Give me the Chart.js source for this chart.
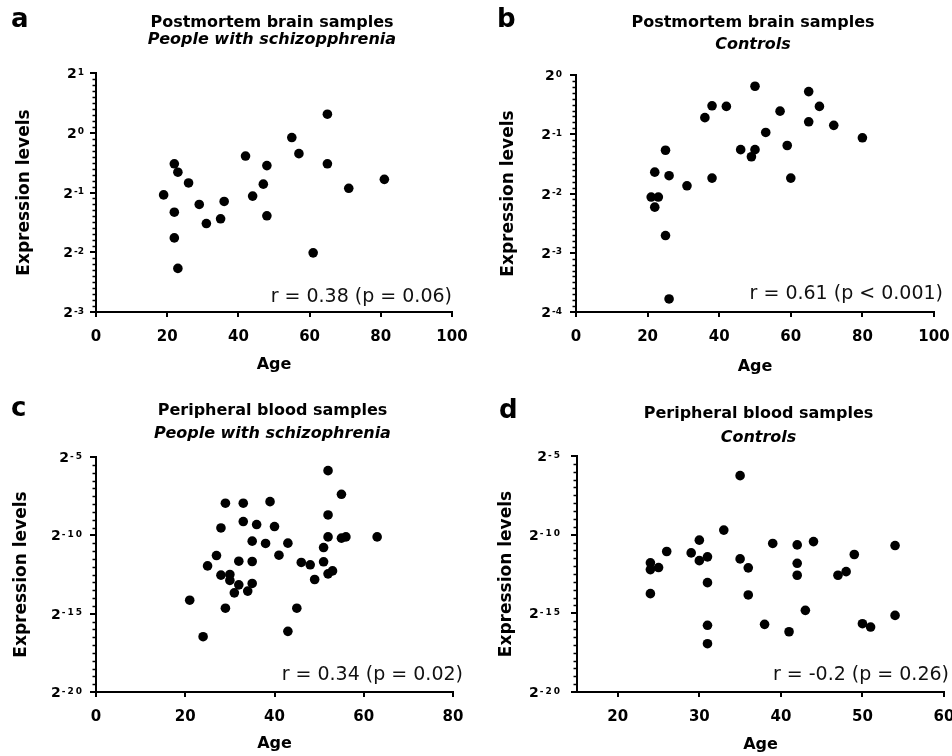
<!DOCTYPE html>
<html>
<head>
<meta charset="utf-8">
<script src="https://cdn.jsdelivr.net/npm/chart.js@4/dist/chart.umd.min.js"></script>
<style>
  body { margin: 0; background: #fff; }
  .panel { position: absolute; width: 476px; height: 378px; }
</style>
</head>
<body>
<div class="panel" style="left:0;top:0"><canvas id="pa" width="476" height="378"></canvas></div>
<div class="panel" style="left:476px;top:0"><canvas id="pb" width="476" height="378"></canvas></div>
<div class="panel" style="left:0;top:378px"><canvas id="pc" width="476" height="378"></canvas></div>
<div class="panel" style="left:476px;top:378px"><canvas id="pd" width="476" height="378"></canvas></div>
<script>
// ages and log2 expression levels
var agesA = [19, 22, 23, 22, 22, 23, 26, 29, 31, 35, 36, 42, 44, 47, 48, 48, 55, 57, 65, 65, 61, 71, 81];
var exprA = [-1.04, -0.52, -0.66, -1.33, -1.76, -2.27, -0.84, -1.20, -1.52, -1.44, -1.15, -0.39,
             -1.06, -0.86, -0.55, -1.39, -0.08, -0.35, 0.31, -0.52, -2.01, -0.93, -0.78];

var agesB = [50, 65, 38, 42, 68, 36, 57, 65, 72, 53, 80, 25, 46, 50, 49, 59, 22, 26, 38, 60, 31, 21, 23, 22, 25, 26];
var exprB = [-0.19, -0.28, -0.52, -0.53, -0.53, -0.72, -0.61, -0.79, -0.85, -0.97, -1.06, -1.27, -1.26,
             -1.26, -1.38, -1.19, -1.64, -1.70, -1.74, -1.74, -1.87, -2.06, -2.06, -2.23, -2.71, -3.78];

var agesC = [52, 55, 29, 33, 39, 52, 33, 36, 28, 40, 52, 55, 56, 63, 35, 38, 43, 51, 27, 41, 25,
             32, 35, 46, 48, 51, 28, 30, 30, 52, 53, 49, 32, 35, 31, 34, 21, 29, 45, 43, 24];
var exprC = [-5.87, -7.38, -7.95, -7.95, -7.85, -8.70, -9.12, -9.31, -9.53, -9.44, -10.10, -10.18,
             -10.10, -10.10, -10.37, -10.52, -10.50, -10.78, -11.29, -11.27, -11.95, -11.65, -11.67,
             -11.73, -11.88, -11.69, -12.54, -12.50, -12.88, -12.46, -12.27, -12.82, -13.16, -13.07,
             -13.67, -13.56, -14.14, -14.65, -14.65, -16.13, -16.47];

var agesD = [35, 33, 30, 39, 44, 42, 54, 26, 29, 49, 31, 30, 35, 24, 42, 25, 24, 36, 48, 47, 42,
             31, 24, 36, 43, 54, 31, 38, 50, 51, 41, 31];
var exprD = [-6.25, -9.71, -10.35, -10.56, -10.44, -10.65, -10.69, -11.07, -11.16, -11.26, -11.41,
             -11.65, -11.54, -11.79, -11.82, -12.09, -12.22, -12.11, -12.35, -12.58, -12.58, -13.05,
             -13.75, -13.83, -14.81, -15.13, -15.76, -15.70, -15.66, -15.87, -16.17, -16.93];

var xTicksAB = [0, 20, 40, 60, 80, 100];
var xTicksC = [0, 20, 40, 60, 80];
var xTicksD = [20, 30, 40, 50, 60];
var yTicksA = [-3, -2, -1, 0, 1];
var yTicksB = [-4, -3, -2, -1, 0];
var yTicksCD = [-20, -15, -10, -5];

var FONT = "'DejaVu Sans', 'Liberation Sans', Arial, sans-serif";

var decor = {
  id: 'decor',
  afterDraw: function(chart, args, o) {
    var ctx = chart.ctx, ca = chart.chartArea, y = chart.scales.y;
    ctx.save();
    // minor ticks on the y axis
    ctx.strokeStyle = '#000';
    ctx.lineWidth = 1.5;
    var n = Math.round((y.max - y.min) / o.minorStep);
    for (var i = 1; i < n; i++) {
      var v = y.min + i * o.minorStep;
      if (Math.abs(v / o.majorStep - Math.round(v / o.majorStep)) < 1e-6) continue;
      var py = Math.round(y.getPixelForValue(v)) + 0.5;
      ctx.beginPath();
      ctx.moveTo(ca.left - 3.5, py);
      ctx.lineTo(ca.left, py);
      ctx.stroke();
    }
    ctx.fillStyle = '#000';
    // y tick labels as 2 with a raised exponent
    var right = ca.left - o.labelGap;
    y.ticks.forEach(function(t) {
      var ty = y.getPixelForValue(t.value);
      var exp = String(t.value);
      ctx.font = 'bold 9px ' + FONT;
      ctx.letterSpacing = o.expSpacing;
      ctx.textAlign = 'right';
      ctx.textBaseline = 'alphabetic';
      var ew = ctx.measureText(exp).width;
      ctx.fillText(exp, right, ty + 1.5);
      ctx.letterSpacing = '0px';
      ctx.font = 'bold 14px ' + FONT;
      ctx.fillText('2', right - ew - 1, ty + 5);
    });
    ctx.textBaseline = 'alphabetic';
    // panel letter
    ctx.textAlign = 'left';
    ctx.font = 'bold 26px ' + FONT;
    ctx.fillText(o.letter, o.letterX, o.letterY);
    // title lines
    var cx = (ca.left + ca.right) / 2 - 2;
    ctx.textAlign = 'center';
    ctx.font = 'bold 16px ' + FONT;
    ctx.fillText(o.title, cx, o.titleY);
    ctx.font = 'italic bold 16px ' + FONT;
    ctx.fillText(o.subtitle, cx, o.subtitleY);
    // correlation note
    ctx.textAlign = 'right';
    ctx.font = '19px ' + FONT;
    ctx.fillStyle = '#111';
    ctx.fillText(o.note, ca.right + o.noteDx, ca.bottom - o.noteDy);
    ctx.restore();
  }
};

function makePanel(id, ages, expr, p) {
  var pts = ages.map(function(a, i) { return { x: a, y: expr[i] }; });
  return new Chart(document.getElementById(id), {
    type: 'scatter',
    data: { datasets: [{ data: pts, pointRadius: 4.8, pointHoverRadius: 4.8,
                         backgroundColor: '#000', borderWidth: 0 }] },
    plugins: [decor],
    options: {
      responsive: false,
      animation: false,
      events: [],
      layout: { padding: { top: p.top, right: 476 - p.right, bottom: 0, left: 0 } },
      plugins: {
        legend: { display: false },
        tooltip: { enabled: false },
        decor: p.decor
      },
      scales: {
        x: {
          type: 'linear', min: p.xMin, max: p.xMax,
          afterBuildTicks: function(s) { s.ticks = p.xTicks.map(function(v) { return { value: v }; }); },
          afterFit: function(s) { s.height = 378 - p.bottom; s.paddingLeft = 0; s.paddingRight = 0; },
          grid: { drawOnChartArea: false, color: '#000', lineWidth: 2, tickLength: 5 },
          border: { color: '#000', width: 2 },
          ticks: { color: '#000', padding: 11, maxRotation: 0, autoSkip: false,
                   font: { family: FONT, size: 15, weight: 'bold' } },
          title: { display: true, text: 'Age', color: '#000', padding: { top: 0, bottom: p.ageGap },
                   font: { family: FONT, size: 16, weight: 'bold' } }
        },
        y: {
          type: 'linear', min: p.yTicks[0], max: p.yTicks[p.yTicks.length - 1],
          afterBuildTicks: function(s) { s.ticks = p.yTicks.map(function(v) { return { value: v }; }); },
          afterFit: function(s) { s.width = p.left; s.paddingTop = 0; s.paddingBottom = 0; },
          grid: { drawOnChartArea: false, color: '#000', lineWidth: 2, tickLength: 6 },
          border: { color: '#000', width: 2 },
          ticks: { display: false, autoSkip: false },
          title: { display: true, text: 'Expression levels', color: '#000', padding: { top: p.yTitleGap, bottom: 0 },
                   font: { family: FONT, size: 17, weight: 'bold' } }
        }
      }
    }
  });
}

makePanel('pa', agesA, exprA, {
  left: 96, right: 452, top: 73, bottom: 312, xMin: 0, xMax: 100, xTicks: xTicksAB, yTicks: yTicksA,
  yTitleGap: 14, ageGap: 4,
  decor: { letter: 'a', letterX: 11, letterY: 27, title: 'Postmortem brain samples', titleY: 27,
           subtitle: 'People with schizopphrenia', subtitleY: 43.5, note: 'r = 0.38 (p = 0.06)',
           noteDx: 0, noteDy: 10, minorStep: 0.1, majorStep: 1, labelGap: 12, expSpacing: '0px' }
});
makePanel('pb', agesB, exprB, {
  left: 100, right: 458, top: 75, bottom: 312, xMin: 0, xMax: 100, xTicks: xTicksAB, yTicks: yTicksB,
  yTitleGap: 22, ageGap: 1.5,
  decor: { letter: 'b', letterX: 21, letterY: 27, title: 'Postmortem brain samples', titleY: 27,
           subtitle: 'Controls', subtitleY: 48.5, note: 'r = 0.61 (p < 0.001)',
           noteDx: 9, noteDy: 13.5, minorStep: 0.1, majorStep: 1, labelGap: 14, expSpacing: '0px' }
});
makePanel('pc', agesC, exprC, {
  left: 96, right: 453, top: 79, bottom: 314, xMin: 0, xMax: 80, xTicks: xTicksC, yTicks: yTicksCD,
  yTitleGap: 11, ageGap: 3,
  decor: { letter: 'c', letterX: 11, letterY: 38, title: 'Peripheral blood samples', titleY: 37,
           subtitle: 'People with schizophrenia', subtitleY: 60, note: 'r = 0.34 (p = 0.02)',
           noteDx: 10, noteDy: 12.5, minorStep: 0.5, majorStep: 5, labelGap: 12, expSpacing: '2px' }
});
makePanel('pd', agesD, exprD, {
  left: 101, right: 468, top: 78, bottom: 314, xMin: 15, xMax: 60, xTicks: xTicksD, yTicks: yTicksCD,
  yTitleGap: 20, ageGap: 1.5,
  decor: { letter: 'd', letterX: 23, letterY: 40, title: 'Peripheral blood samples', titleY: 40,
           subtitle: 'Controls', subtitleY: 63.5, note: 'r = -0.2 (p = 0.26)',
           noteDx: 5, noteDy: 12, minorStep: 0.5, majorStep: 5, labelGap: 15, expSpacing: '2px' }
});
</script>
</body>
</html>
